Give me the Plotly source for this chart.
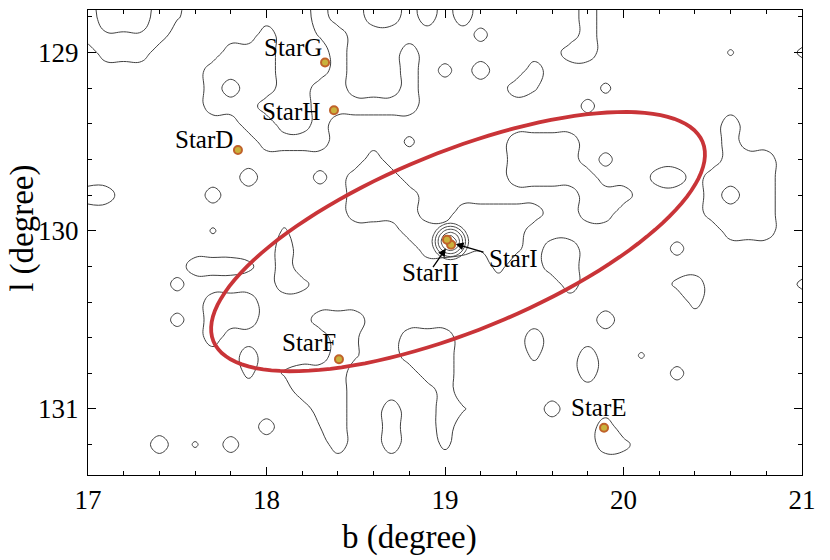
import numpy as np
import plotly.graph_objects as go

# contour field: 0.1 deg grid (b 17.0-21.0, l 128.7-131.4)
# '.'=0, digits=d/10, '#'=1 ; single contour at 0.5 ; groups of 10 columns
b_grid = np.round(np.arange(17.0, 21.05, 0.1), 2)
l_grid = np.round(np.arange(128.7, 131.45, 0.1), 2)
field_rows = [
    "#...#7.... ...#..##.# .#......#. .......... .",
    "#...#6.... ...#..##.# .#......#. .......... .",
    "#666#..... #..6#..... ..8.....#. .......... .",
    ".###....## #...#...#. .......##. ......6... 7",
    ".......### #...#...#. 8.#..#.... .......... .",
    ".......#.# #..##...#. ....#6...7 .......... .",
    ".......### ...######. ........8. .......... .",
    ".........# #..#...... .......... ......#... .",
    ".......... ####....7. ....####.. ......#... .",
    ".......... ......#... ....####.8 ......###. .",
    ".........# ...8.###.. ....#####. ..##.####. .",
    "##.....9.. .....####. ........## #....#.##. .",
    ".......... .....####. .#####..## .....####. .",
    ".......6.. .6......## #####..... ......###. .",
    ".......... .#.......# #86#7.##.. ...8...... .",
    "......###7 .#........ ...8..##.. .......... .",
    ".....8.... .#8....... .......#.. ...7#..... 7",
    ".......### .......... .......... ....8..... .",
    ".....8.### ...###.... .........# .......... .",
    ".......#.. ....#6..## #....#.... .......... .",
    ".........# ....#6..## #....7..#. .6........ .",
    ".........7 .6###....# #.......#. ...8...... .",
    ".......... ..###..... #......... .......... .",
    ".......... ...##..#.. #6....9... .......... .",
    ".......... 9..5#..#.. #........# .......... .",
    "....#.6.9. ....#..#.. 7........# 8......... .",
    ".......... .......... .......... .......... .",
    ".......... .......... .......... .......... .",
]

# peak around StarI / StarII, 0.03 deg grid
peak_b = np.round(np.arange(18.91, 19.16, 0.03), 2)
peak_l = np.round(np.arange(129.94, 130.19, 0.03), 2)
peak_z = [
    [-2.0, -1.5, -0.9, -0.3, 0.0, -0.3, -0.9, -1.5, -2.0],
    [-1.5, -0.5, 0.6, 1.4, 1.7, 1.4, 0.6, -0.5, -1.5],
    [-0.9, 0.6, 2.0, 3.1, 3.5, 3.1, 2.0, 0.6, -0.9],
    [-0.3, 1.4, 3.1, 4.5, 5.2, 4.5, 3.1, 1.4, -0.3],
    [0.0, 1.7, 3.5, 5.2, 7.0, 5.2, 3.5, 1.7, 0.0],
    [-0.3, 1.4, 3.1, 4.5, 5.2, 4.5, 3.1, 1.4, -0.3],
    [-0.9, 0.6, 2.0, 3.1, 3.5, 3.1, 2.0, 0.6, -0.9],
    [-1.5, -0.5, 0.6, 1.4, 1.7, 1.4, 0.6, -0.5, -1.5],
    [-2.0, -1.5, -0.9, -0.3, 0.0, -0.3, -0.9, -1.5, -2.0],
]

star_names = ["StarG", "StarH", "StarD", "StarI", "StarII", "StarF", "StarE"]
star_b = [18.328, 18.378, 17.840, 19.034, 19.011, 18.406, 19.891]
star_l = [129.056, 129.324, 129.547, 130.078, 130.050, 130.721, 131.106]
label_b = [18.148, 18.137, 17.650, 19.381, 18.916, 18.238, 19.863]
label_l = [128.972, 129.330, 129.486, 130.156, 130.235, 130.626, 130.994]

# red ellipse: centre, semi-axes (deg), tilt
ell_b0, ell_l0 = 19.073, 130.061
ell_a, ell_bm, ell_tilt = 1.48, 0.503, -22.2


def decode(ch):
    if ch == "#":
        return 1.0
    if ch == ".":
        return 0.0
    return int(ch) / 10.0


z = []
for row in field_rows:
    cells = row.replace(" ", "")
    assert len(cells) == len(b_grid), (row, len(cells))
    z.append([decode(c) for c in cells])

fig = go.Figure()
fig.add_trace(go.Contour(x=b_grid, y=l_grid, z=z, showscale=False, hoverinfo="skip",
                         contours=dict(start=0.5, end=0.5, size=1, coloring="none"),
                         line=dict(color="#404040", width=1, smoothing=1.3)))
fig.add_trace(go.Contour(x=peak_b, y=peak_l, z=peak_z, showscale=False, hoverinfo="skip",
                         contours=dict(start=1, end=6, size=1, coloring="none"),
                         line=dict(color="#4a4a4a", width=1, smoothing=1.0)))

t = np.linspace(0, 2 * np.pi, 121)
th = np.deg2rad(ell_tilt)
ex = ell_b0 + ell_a * np.cos(t) * np.cos(th) - ell_bm * np.sin(t) * np.sin(th)
ey = ell_l0 + ell_a * np.cos(t) * np.sin(th) + ell_bm * np.sin(t) * np.cos(th)
path = "M " + " L ".join(f"{x:.4f},{y:.4f}" for x, y in zip(ex, ey)) + " Z"
fig.add_shape(type="path", path=path, xref="x", yref="y",
              line=dict(color="#c93438", width=3.8))

fig.add_trace(go.Scatter(x=star_b, y=star_l, mode="markers", hoverinfo="skip", showlegend=False,
                         marker=dict(size=8, color="#c9b23c", line=dict(color="#c0622a", width=2))))

serif = "Liberation Serif, Times New Roman, serif"
for name, x, y in zip(star_names, label_b, label_l):
    fig.add_annotation(x=x, y=y, text=name, showarrow=False, font=dict(family=serif, size=25, color="black"))

# arrows to the two close stars
fig.add_annotation(x=19.06, y=130.075, ax=19.224, ay=130.123, axref="x", ayref="y", text="",
                   showarrow=True, arrowhead=2, arrowsize=1.2, arrowwidth=1.3, arrowcolor="black")
fig.add_annotation(x=19.005, y=130.1, ax=18.927, ay=130.212, axref="x", ayref="y", text="",
                   showarrow=True, arrowhead=2, arrowsize=1.2, arrowwidth=1.3, arrowcolor="black")

# axis titles
fig.add_annotation(xref="paper", yref="paper", x=0.45, y=-0.135, yanchor="middle", showarrow=False,
                   text="b (degree)", font=dict(family=serif, size=33, color="black"))
fig.add_annotation(xref="paper", yref="paper", x=-0.092, y=0.53, xanchor="center", showarrow=False,
                   text="l (degree)", textangle=-90, font=dict(family=serif, size=33, color="black"))

axis_common = dict(showline=True, linecolor="black", linewidth=1, mirror="ticks", ticks="inside",
                   ticklen=8, tickcolor="black", showgrid=False, zeroline=False, automargin=False,
                   tickfont=dict(family=serif, size=27, color="black"),
                   minor=dict(ticks="inside", ticklen=4, tickcolor="black", showgrid=False))
fig.update_xaxes(range=[17, 21], dtick=1, tick0=17, ticklabelstandoff=1, **axis_common)
fig.update_xaxes(minor_dtick=0.2)
fig.update_yaxes(range=[131.371, 128.761], dtick=1, tick0=129, ticklabelstandoff=3, **axis_common)
fig.update_yaxes(minor_dtick=0.2)

fig.update_layout(width=830, height=560, margin=dict(l=88, r=28, t=10, b=85),
                  plot_bgcolor="white", paper_bgcolor="white", showlegend=False)

fig.write_html("out.html", config={"displayModeBar": False},
               post_script="document.body.style.margin='0';")
